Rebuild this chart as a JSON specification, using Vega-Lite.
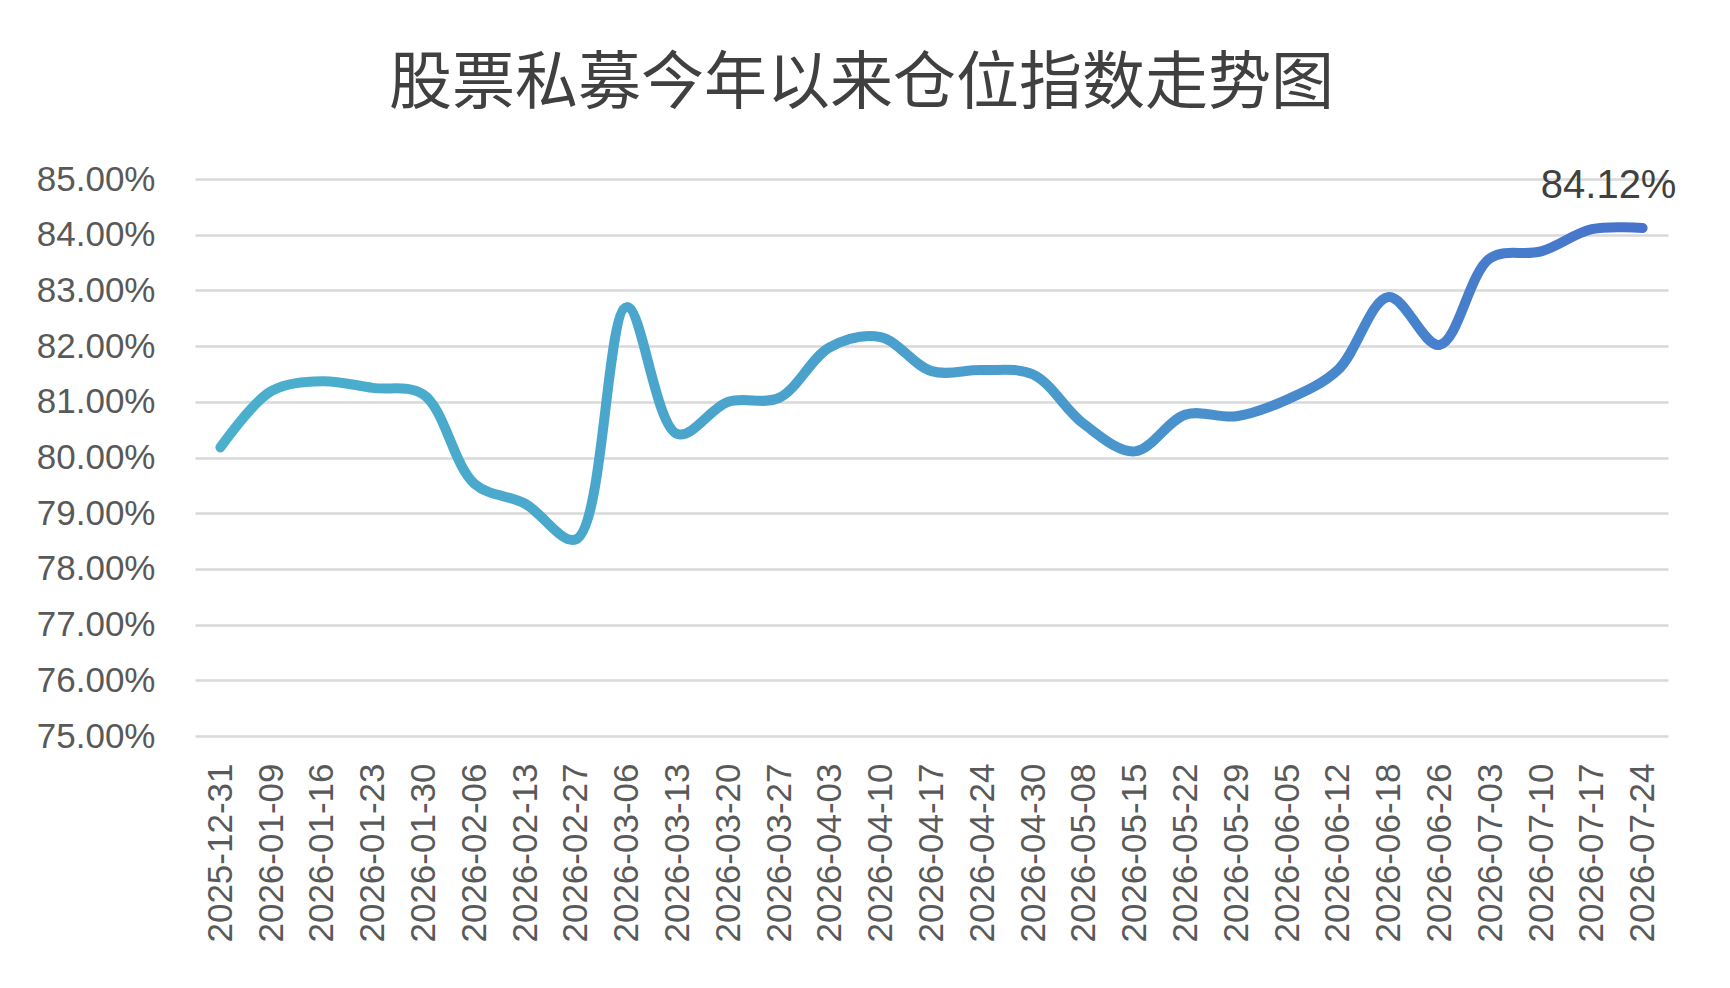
{
  "$schema": "https://vega.github.io/schema/vega-lite/v6.json",
  "description": "股票私募今年以来仓位指数走势图",
  "width": 1473,
  "height": 557,
  "autosize": {"type": "none"},
  "padding": {"left": 195, "top": 179, "right": 62, "bottom": 252},
  "background": "white",
  "title": {
    "text": "股票私募今年以来仓位指数走势图",
    "font": "Noto Sans CJK SC",
    "fontSize": 63,
    "fontWeight": "normal",
    "color": "#404040",
    "anchor": "middle",
    "dx": -70,
    "offset": 46
  },
  "data": {
    "values": [
      {"date": "2025-12-31", "value": 80.18},
      {"date": "2026-01-09", "value": 81.19},
      {"date": "2026-01-16", "value": 81.37},
      {"date": "2026-01-23", "value": 81.25},
      {"date": "2026-01-30", "value": 81.13},
      {"date": "2026-02-06", "value": 79.53},
      {"date": "2026-02-13", "value": 79.17},
      {"date": "2026-02-27", "value": 78.53},
      {"date": "2026-03-06", "value": 82.70},
      {"date": "2026-03-13", "value": 80.42},
      {"date": "2026-03-20", "value": 81.00},
      {"date": "2026-03-27", "value": 81.07},
      {"date": "2026-04-03", "value": 81.98},
      {"date": "2026-04-10", "value": 82.16},
      {"date": "2026-04-17", "value": 81.55},
      {"date": "2026-04-24", "value": 81.57},
      {"date": "2026-04-30", "value": 81.49},
      {"date": "2026-05-08", "value": 80.60},
      {"date": "2026-05-15", "value": 80.11},
      {"date": "2026-05-22", "value": 80.77},
      {"date": "2026-05-29", "value": 80.74},
      {"date": "2026-06-05", "value": 81.04},
      {"date": "2026-06-12", "value": 81.57},
      {"date": "2026-06-18", "value": 82.88},
      {"date": "2026-06-26", "value": 82.02},
      {"date": "2026-07-03", "value": 83.58},
      {"date": "2026-07-10", "value": 83.70},
      {"date": "2026-07-17", "value": 84.10},
      {"date": "2026-07-24", "value": 84.12}
    ]
  },
  "encoding": {
    "x": {
      "field": "date",
      "type": "ordinal",
      "sort": null,
      "scale": {"type": "point", "padding": 0.5},
      "axis": {
        "title": null,
        "labelAngle": -90,
        "labelPadding": 27,
        "labelFontSize": 35,
        "labelColor": "#595959",
        "labelFont": "Liberation Sans",
        "ticks": false,
        "domain": false,
        "grid": false
      }
    },
    "y": {
      "field": "value",
      "type": "quantitative",
      "scale": {"domain": [75, 85], "zero": false, "nice": false},
      "axis": {
        "title": null,
        "values": [75, 76, 77, 78, 79, 80, 81, 82, 83, 84, 85],
        "labelExpr": "format(datum.value, '.2f') + '%'",
        "labelFontSize": 35,
        "labelColor": "#595959",
        "labelFont": "Liberation Sans",
        "labelPadding": 40,
        "ticks": false,
        "domain": false,
        "grid": true,
        "gridColor": "#d9d9d9",
        "gridWidth": 2.5
      }
    }
  },
  "layer": [
    {
      "mark": {
        "type": "line",
        "interpolate": "catmull-rom",
        "strokeWidth": 10,
        "strokeCap": "round",
        "strokeJoin": "round",
        "color": {
          "gradient": "linear",
          "x1": 0, "y1": 0, "x2": 1, "y2": 0,
          "stops": [
            {"offset": 0, "color": "#4AB0CC"},
            {"offset": 0.55, "color": "#4A9DCC"},
            {"offset": 1, "color": "#4673CC"}
          ]
        }
      }
    },
    {
      "transform": [{"filter": "datum.date == '2026-07-24'"}],
      "mark": {
        "type": "text",
        "font": "Liberation Sans",
        "fontSize": 40,
        "color": "#404040",
        "align": "center",
        "baseline": "alphabetic",
        "dx": -34,
        "dy": -30
      },
      "encoding": {
        "text": {"value": "84.12%"}
      }
    }
  ],
  "config": {
    "view": {"stroke": null}
  }
}
